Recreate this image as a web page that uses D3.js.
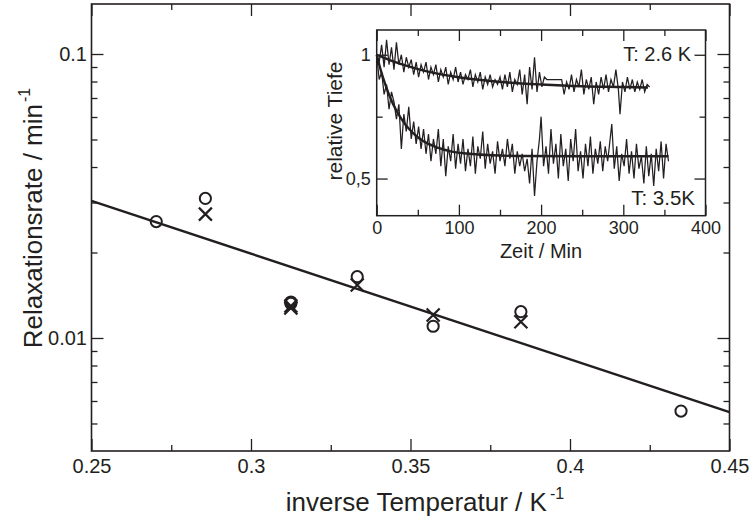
<!DOCTYPE html>
<html><head><meta charset="utf-8">
<script src="https://cdn.jsdelivr.net/npm/d3@7"></script>
<style>
html,body{margin:0;padding:0;background:#fff;}
svg{display:block;font-family:"Liberation Sans",Arial,sans-serif;}
</style></head>
<body>
<svg id="chart" width="756" height="522"></svg>
<script>
// ---------- main chart data ----------
const circleX = [0.2703, 0.2857, 0.3125, 0.3125, 0.3333, 0.3571, 0.3846, 0.4348];
const circleY = [0.0257, 0.0310, 0.01339, 0.01323, 0.01644, 0.0110, 0.01238, 0.00553];
const crossX  = [0.2857, 0.3125, 0.3125, 0.3333, 0.3571, 0.3846];
const crossY  = [0.0273, 0.01296, 0.01275, 0.01537, 0.01205, 0.01141];
const fitX = [0.25, 0.45];
const fitY = [0.0304, 0.00548];
const xMajor = [0.25, 0.3, 0.35, 0.4, 0.45];
const xTickLabels = ["0.25", "0.3", "0.35", "0.4", "0.45"];
const xMinor = [0.275, 0.325, 0.375, 0.425];
const yMajor = [0.01, 0.1];
const yTickLabels = ["0.01", "0.1"];
const yMinor = [0.005, 0.006, 0.007, 0.008, 0.009, 0.02, 0.03, 0.04, 0.05, 0.06, 0.07, 0.08, 0.09];

// ---------- inset data ----------
const t26 = [0,3,6,9,12,15,18,21,24,27,30,33,36,39,42,45,48,51,54,57,60,63,66,69,72,75,78,81,84,87,90,93,96,99,102,105,108,111,114,117,120,123,126,129,132,135,138,141,144,147,150,153,156,159,162,165,168,171,174,177,180,183,186,189,192,195,198,201,204,207,225,228,231,234,237,240,243,246,249,252,255,258,261,264,267,270,273,276,279,282,285,288,291,294,296,299,302,305,308,311,314,317,320,323,326,329,332];
const v26 = [1.00,0.97,1.04,0.95,1.06,0.96,1.03,0.94,1.05,0.96,1.00,0.93,0.99,0.95,0.98,0.92,0.97,0.91,0.96,0.93,0.97,0.90,0.95,0.92,0.96,0.89,0.94,0.91,0.95,0.88,0.93,0.90,0.95,0.89,0.93,0.88,0.92,0.90,0.94,0.87,0.92,0.89,0.93,0.86,0.91,0.88,0.92,0.87,0.90,0.88,0.91,0.86,0.92,0.87,0.93,0.85,0.90,0.88,0.94,0.84,0.92,0.80,0.95,0.86,0.99,0.85,0.93,0.87,0.91,0.90,0.90,0.84,0.89,0.86,0.92,0.85,0.90,0.87,0.94,0.84,0.90,0.86,0.91,0.80,0.89,0.84,0.91,0.86,0.92,0.85,0.90,0.87,0.94,0.86,0.76,0.89,0.85,0.91,0.86,0.90,0.85,0.89,0.86,0.90,0.85,0.88,0.87];
const t35 = [0,3,6,9,12,15,18,21,24,27,30,33,36,39,42,45,48,51,54,57,60,63,66,69,72,75,78,81,84,87,90,93,96,99,102,105,108,111,114,117,120,123,126,129,132,135,138,141,144,147,150,153,156,159,162,165,168,171,174,177,180,183,186,189,192,195,198,200,203,206,209,212,215,218,221,224,227,230,233,236,239,242,245,248,251,254,257,260,263,266,269,272,275,278,281,284,286,289,292,295,298,301,304,307,310,313,316,319,322,325,328,331,334,337,340,343,346,349,352,355];
const v35 = [1.00,0.90,0.93,0.84,0.88,0.78,0.85,0.81,0.74,0.80,0.62,0.76,0.69,0.79,0.66,0.73,0.64,0.71,0.62,0.70,0.60,0.68,0.57,0.66,0.60,0.70,0.55,0.66,0.51,0.63,0.57,0.68,0.54,0.64,0.56,0.66,0.53,0.62,0.55,0.67,0.52,0.63,0.58,0.69,0.54,0.64,0.56,0.61,0.52,0.65,0.57,0.62,0.55,0.66,0.58,0.64,0.52,0.61,0.55,0.60,0.53,0.58,0.48,0.62,0.43,0.57,0.66,0.75,0.55,0.63,0.52,0.70,0.56,0.64,0.50,0.68,0.55,0.62,0.49,0.66,0.57,0.70,0.53,0.61,0.50,0.64,0.55,0.67,0.52,0.62,0.56,0.65,0.53,0.63,0.57,0.66,0.72,0.54,0.63,0.49,0.60,0.55,0.66,0.52,0.61,0.50,0.64,0.54,0.59,0.48,0.63,0.51,0.60,0.47,0.62,0.53,0.65,0.50,0.64,0.57];
const fit26T = [0,10,20,30,45,60,80,100,130,160,200,250,300,330];
const fit26V = [1.0,0.986,0.973,0.962,0.947,0.934,0.920,0.909,0.897,0.888,0.880,0.873,0.870,0.868];
const fit35T = [0,5,10,15,20,30,40,50,60,75,90,110,140,180,250,355];
const fit35V = [1.0,0.937,0.884,0.839,0.800,0.741,0.698,0.667,0.645,0.624,0.610,0.601,0.594,0.591,0.590,0.590];
const insetXMajor = [0, 100, 200, 300, 400];
const insetXMinor = [50, 150, 250, 350];
const insetYMajor = [0.5, 1.0];
const insetYLabels = ["0,5", "1"];
const insetYMinor = [0.75];

const ink = "#231f20";
const svg = d3.select("#chart");

// ---------- main scales ----------
const x = d3.scaleLinear().domain([0.25, 0.45]).range([91.5, 729.5]);
const y = d3.scaleLog().domain([0.004, 0.15]).range([451, 4]);

function styleAxis(g, fs) {
  g.select(".domain").remove();
  g.selectAll(".tick line").attr("stroke", ink).attr("stroke-width", 1.3);
  g.selectAll(".tick text").attr("fill", ink).attr("font-size", fs)
    .attr("font-family", "Liberation Sans, Arial, sans-serif");
}

// bottom
svg.append("g").attr("transform", "translate(0,451)")
  .call(d3.axisBottom(x).tickValues(xMajor).tickSizeInner(-12).tickSizeOuter(0).tickPadding(8)
    .tickFormat((d, i) => xTickLabels[i]))
  .call(g => styleAxis(g, 20));
svg.append("g").attr("transform", "translate(0,451)")
  .call(d3.axisBottom(x).tickValues(xMinor).tickSizeInner(-6).tickSizeOuter(0).tickFormat(""))
  .call(g => styleAxis(g, 20));
// top
svg.append("g").attr("transform", "translate(0,4)")
  .call(d3.axisTop(x).tickValues(xMajor).tickSizeInner(-12).tickSizeOuter(0).tickFormat(""))
  .call(g => styleAxis(g, 20));
svg.append("g").attr("transform", "translate(0,4)")
  .call(d3.axisTop(x).tickValues(xMinor).tickSizeInner(-6).tickSizeOuter(0).tickFormat(""))
  .call(g => styleAxis(g, 20));
// left
svg.append("g").attr("transform", "translate(91.5,0)")
  .call(d3.axisLeft(y).tickValues(yMajor).tickSizeInner(-12).tickSizeOuter(0).tickPadding(4.5)
    .tickFormat((d, i) => yTickLabels[i]))
  .call(g => styleAxis(g, 20));
svg.append("g").attr("transform", "translate(91.5,0)")
  .call(d3.axisLeft(y).tickValues(yMinor).tickSizeInner(-6).tickSizeOuter(0).tickFormat(""))
  .call(g => styleAxis(g, 20));
// right
svg.append("g").attr("transform", "translate(729.5,0)")
  .call(d3.axisRight(y).tickValues(yMajor).tickSizeInner(-12).tickSizeOuter(0).tickFormat(""))
  .call(g => styleAxis(g, 20));
svg.append("g").attr("transform", "translate(729.5,0)")
  .call(d3.axisRight(y).tickValues(yMinor).tickSizeInner(-6).tickSizeOuter(0).tickFormat(""))
  .call(g => styleAxis(g, 20));

// frame
svg.append("rect").attr("x", x.range()[0]).attr("y", y.range()[1])
  .attr("width", x.range()[1] - x.range()[0]).attr("height", y.range()[0] - y.range()[1])
  .attr("fill", "none").attr("stroke", ink).attr("stroke-width", 1.6);

// fit line
svg.append("path").datum(fitX.map((d, i) => [d, fitY[i]]))
  .attr("d", d3.line().x(d => x(d[0])).y(d => y(d[1])))
  .attr("fill", "none").attr("stroke", ink).attr("stroke-width", 2.4);

// circles
svg.append("g").selectAll("circle").data(circleX.map((d, i) => [d, circleY[i]])).join("circle")
  .attr("cx", d => x(d[0])).attr("cy", d => y(d[1])).attr("r", 5.6)
  .attr("fill", "none").attr("stroke", ink).attr("stroke-width", 2);
// crosses
const cs = 6.5;
svg.append("g").selectAll("path").data(crossX.map((d, i) => [d, crossY[i]])).join("path")
  .attr("d", d => {
    const cx = x(d[0]), cy = y(d[1]);
    return `M${cx - cs},${cy - cs}L${cx + cs},${cy + cs}M${cx - cs},${cy + cs}L${cx + cs},${cy - cs}`;
  })
  .attr("fill", "none").attr("stroke", ink).attr("stroke-width", 2.2);

// axis titles
const yt = svg.append("text").attr("transform", "translate(42,218) rotate(-90)")
  .attr("text-anchor", "middle").attr("font-size", 26).attr("fill", ink);
yt.append("tspan").text("Relaxationsrate / min");
yt.append("tspan").attr("font-size", 16).attr("dy", -12).attr("dx", 2).text("-1");

const xt = svg.append("text").attr("x", 425).attr("y", 511)
  .attr("text-anchor", "middle").attr("font-size", 26).attr("fill", ink);
xt.append("tspan").text("inverse Temperatur / K");
xt.append("tspan").attr("font-size", 16).attr("dy", -12).attr("dx", 3).text("-1");

// ---------- inset ----------
const ix = d3.scaleLinear().domain([0, 400]).range([376.7, 705.5]);
const iy = d3.scaleLinear().domain([0.35, 1.1]).range([215.7, 30]);

svg.append("rect").attr("x", 376.7).attr("y", 30).attr("width", 705.5 - 376.7).attr("height", 215.7 - 30)
  .attr("fill", "#fff");

svg.append("g").attr("transform", `translate(0,${iy.range()[0]})`)
  .call(d3.axisBottom(ix).tickValues(insetXMajor).tickSizeInner(-11).tickSizeOuter(0).tickPadding(5.5))
  .call(g => styleAxis(g, 18));
svg.append("g").attr("transform", `translate(0,${iy.range()[0]})`)
  .call(d3.axisBottom(ix).tickValues(insetXMinor).tickSizeInner(-6).tickSizeOuter(0).tickFormat(""))
  .call(g => styleAxis(g, 18));
svg.append("g").attr("transform", `translate(0,${iy.range()[1]})`)
  .call(d3.axisTop(ix).tickValues(insetXMajor).tickSizeInner(-11).tickSizeOuter(0).tickFormat(""))
  .call(g => styleAxis(g, 18));
svg.append("g").attr("transform", `translate(0,${iy.range()[1]})`)
  .call(d3.axisTop(ix).tickValues(insetXMinor).tickSizeInner(-6).tickSizeOuter(0).tickFormat(""))
  .call(g => styleAxis(g, 18));
svg.append("g").attr("transform", `translate(${ix.range()[0]},0)`)
  .call(d3.axisLeft(iy).tickValues(insetYMajor).tickSizeInner(-11).tickSizeOuter(0).tickPadding(6)
    .tickFormat((d, i) => insetYLabels[i]))
  .call(g => styleAxis(g, 18));
svg.append("g").attr("transform", `translate(${ix.range()[0]},0)`)
  .call(d3.axisLeft(iy).tickValues(insetYMinor).tickSizeInner(-6).tickSizeOuter(0).tickFormat(""))
  .call(g => styleAxis(g, 18));
svg.append("g").attr("transform", `translate(${ix.range()[1]},0)`)
  .call(d3.axisRight(iy).tickValues(insetYMajor).tickSizeInner(-11).tickSizeOuter(0).tickFormat(""))
  .call(g => styleAxis(g, 18));
svg.append("g").attr("transform", `translate(${ix.range()[1]},0)`)
  .call(d3.axisRight(iy).tickValues(insetYMinor).tickSizeInner(-6).tickSizeOuter(0).tickFormat(""))
  .call(g => styleAxis(g, 18));

svg.append("rect").attr("x", 376.7).attr("y", 30).attr("width", 705.5 - 376.7).attr("height", 215.7 - 30)
  .attr("fill", "none").attr("stroke", ink).attr("stroke-width", 1.5);

const iline = d3.line().x(d => ix(d[0])).y(d => iy(d[1]));
const ismooth = d3.line().x(d => ix(d[0])).y(d => iy(d[1])).curve(d3.curveMonotoneX);

svg.append("path").datum(t26.map((d, i) => [d, v26[i]])).attr("d", iline)
  .attr("fill", "none").attr("stroke", ink).attr("stroke-width", 1.25).attr("stroke-linejoin", "miter");
svg.append("path").datum(t35.map((d, i) => [d, v35[i]])).attr("d", iline)
  .attr("fill", "none").attr("stroke", ink).attr("stroke-width", 1.25).attr("stroke-linejoin", "miter");
svg.append("path").datum(fit26T.map((d, i) => [d, fit26V[i]])).attr("d", ismooth)
  .attr("fill", "none").attr("stroke", ink).attr("stroke-width", 2.4);
svg.append("path").datum(fit35T.map((d, i) => [d, fit35V[i]])).attr("d", ismooth)
  .attr("fill", "none").attr("stroke", ink).attr("stroke-width", 2.4);

svg.append("text").attr("x", 691).attr("y", 61).attr("text-anchor", "end")
  .attr("font-size", 20).attr("fill", ink).text("T: 2.6 K");
svg.append("text").attr("x", 695).attr("y", 205).attr("text-anchor", "end")
  .attr("font-size", 20.5).attr("fill", ink).text("T: 3.5K");

svg.append("text").attr("transform", "translate(342,121) rotate(-90)")
  .attr("text-anchor", "middle").attr("font-size", 21).attr("fill", ink).text("relative Tiefe");
svg.append("text").attr("x", 541).attr("y", 257.5)
  .attr("text-anchor", "middle").attr("font-size", 20).attr("fill", ink).text("Zeit / Min");
</script>
</body></html>
